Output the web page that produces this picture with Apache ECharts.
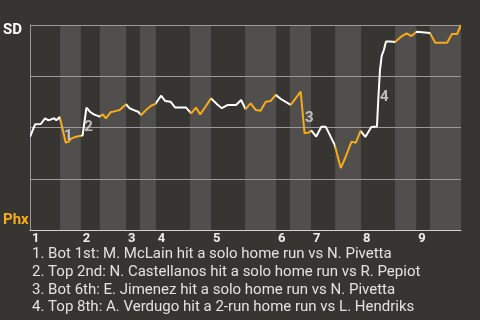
<!DOCTYPE html>
<html>
<head>
<meta charset="utf-8">
<script src="https://cdn.jsdelivr.net/npm/echarts@6/dist/echarts.min.js"></script>
<style>
html,body{margin:0;padding:0;background:#373531;}
#chart{width:480px;height:320px;}
</style>
</head>
<body>
<div id="chart"></div>
<script>
// ---- data ----
const innings = ['1','2','3','4','5','6','7','8','9'];
// half-inning boundaries in game-progress units (0..100): top1, bot1, top2, ...
const halfBounds = [0,7.0,11.8,16.2,22.3,25.5,29.2,37.1,42.0,49.9,57.1,60.3,65.2,70.8,76.8,84.7,89.6,92.8,100];
// game progress of each win-probability point
const progress = [0,1.2,2.5,3.5,4.3,5.6,6.1,6.9,
  8.3,9.0,9.6,10.7,11.7,
  12.2,13.1,13.9,14.8,16.2,
  16.9,17.6,18.7,19.8,20.8,22.3,
  23.1,24.1,25.1,
  25.8,26.9,28.1,29.1,
  30.4,31.4,32.6,33.7,36.2,
  37.4,38.5,39.5,40.7,42.0,
  43.4,44.5,45.9,47.8,49.0,50.0,
  51.2,52.4,53.5,54.7,55.8,57.0,
  58.2,60.5,
  62.8,63.7,64.6,
  65.3,66.4,67.6,68.6,70.7,
  72.1,73.1,74.6,75.6,76.7,
  77.8,79.2,80.5,80.8,81.2,81.6,82.1,82.6,83.6,84.7,
  86.1,87.4,88.5,89.7,
  92.8,
  94.0,96.8,97.9,99.1,100];
// SD win probability (%)
const sdWinPct = [45.4,51.6,51.7,54.5,53.5,54.5,53.5,55.1,
  42.6,43.1,44.7,45.5,46.0,
  46.1,59.7,57.7,56.4,55.3,
  56.4,54.5,57.4,58.0,58.5,61.3,
  59.4,58.5,57.7,
  56.1,58.5,60.6,61.5,
  65.5,62.9,62.6,59.7,59.7,
  56.9,59.7,56.4,60.1,64.2,
  61.3,59.4,61.0,61.0,63.4,59.0,
  61.8,58.5,58.2,62.6,62.9,65.9,
  63.9,61.0,
  67.5,47.2,47.5,
  48.5,45.6,50.4,50.4,41.5,
  30.2,35.0,43.1,42.6,48.3,
  45.4,50.2,50.5,63.4,78.0,84.9,87.8,92.0,92.0,91.7,
  94.3,95.9,94.6,96.7,
  96.1,
  91.4,91.4,95.6,95.6,100];
// home-run markers
const hrTags = ['1','2','3','4'];
const hrProgress = [8.9,13.6,64.8,82.2];
const hrWinPct = [45.5,49.9,54.6,64.9];
const notes = [
  '1. Bot 1st: M. McLain hit a solo home run vs N. Pivetta',
  '2. Top 2nd: N. Castellanos hit a solo home run vs R. Pepiot',
  '3. Bot 6th: E. Jimenez hit a solo home run vs N. Pivetta',
  '4. Top 8th: A. Verdugo hit a 2-run home run vs L. Hendriks'
];
const topTeam = 'SD', bottomTeam = 'Phx';

// ---- styles ----
const WHITE = '#ffffff', ORANGE = '#f7ab18', BAND = '#504f4d', BG = '#373531';
const FONT = 'Roboto, "Noto Sans", sans-serif';

const inningStarts = innings.map((_, i) => halfBounds[i * 2]);
const pieces = [];
for (let i = 0; i < halfBounds.length - 1; i++) {
  const p = { gte: halfBounds[i], color: i % 2 ? ORANGE : WHITE };
  if (i < halfBounds.length - 2) p.lt = halfBounds[i + 1]; else p.lte = halfBounds[i + 1];
  pieces.push(p);
}
const bands = [];
for (let i = 1; i < halfBounds.length - 1; i += 2) {
  bands.push([{ xAxis: halfBounds[i] }, { xAxis: halfBounds[i + 1] }]);
}
const lineData = progress.map((x, i) => [x, sdWinPct[i]]);
const hrData = hrTags.map((t, i) => [hrProgress[i], hrWinPct[i], t]);

const chart = echarts.init(document.getElementById('chart'), null, { renderer: 'canvas' });
chart.setOption({
  backgroundColor: BG,
  animation: false,
  grid: { left: 30, right: 19, top: 25, bottom: 90 },
  xAxis: {
    type: 'value', min: 0, max: 100, z: 1.5,
    axisLine: { show: true, lineStyle: { color: '#d0d0d0', width: 1 } },
    axisTick: { show: false },
    splitLine: { show: false },
    axisLabel: {
      customValues: inningStarts,
      formatter: v => {
        const k = inningStarts.findIndex(s => Math.abs(s - v) < 1e-6);
        return k >= 0 ? innings[k] : '';
      },
      align: 'left', margin: 2, padding: [0, 0, 0, 2],
      color: '#eeeeee', fontWeight: 'bold', fontSize: 13, fontFamily: FONT
    }
  },
  yAxis: {
    type: 'value', min: 0, max: 100, interval: 25, z: 1.5,
    axisLine: { show: true, lineStyle: { color: '#9a9a9a', width: 1 } },
    axisTick: { show: false },
    axisLabel: { show: false },
    splitLine: { show: true, lineStyle: { color: '#9a9a9a', width: 1 } }
  },
  visualMap: { type: 'piecewise', show: false, dimension: 0, seriesIndex: 1, pieces: pieces },
  series: [
    {
      type: 'line', data: [], z: 1, silent: true,
      markArea: { silent: true, itemStyle: { color: BAND }, data: bands }
    },
    {
      type: 'line', data: lineData, z: 2, showSymbol: false, symbol: 'none',
      lineStyle: { width: 2 }
    },
    {
      type: 'scatter', data: hrData, z: 3, symbolSize: 0, silent: true,
      label: {
        show: true, position: 'inside', formatter: p => p.data[2],
        color: '#e0e0e0', fontWeight: 'bold', fontSize: 15, fontFamily: FONT
      }
    }
  ],
  graphic: [
    { type: 'text', left: 3, top: 23, style: { text: topTeam, fill: '#ffffff', font: 'bold 15px ' + FONT } },
    { type: 'text', left: 3, top: 213, style: { text: bottomTeam, fill: ORANGE, font: 'bold 15px ' + FONT } },
    ...notes.map((t, i) => ({
      type: 'text', left: 32, top: 247 + i * 17.7,
      style: { text: t, fill: '#e2e2e2', font: '15px ' + FONT }
    }))
  ]
});
</script>
</body>
</html>
